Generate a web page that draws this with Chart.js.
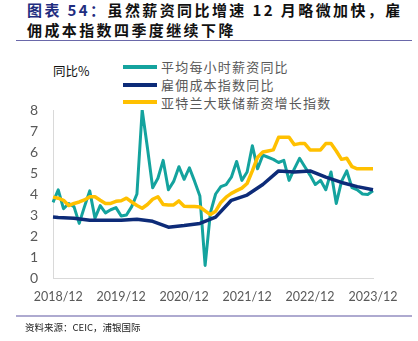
<!DOCTYPE html>
<html>
<head>
<meta charset="utf-8">
<script src="https://cdn.jsdelivr.net/npm/chart.js@4"></script>
<style>
    body { margin: 0; background: #fff; }
    #wrap { position: relative; width: 418px; height: 341px; overflow: hidden; font-family: "Noto Sans CJK SC", sans-serif; }
    #chart { position: absolute; left: 0; top: 0; }
    .title { position: absolute; left: 27px; top: 0; font-size: 15px; font-weight: bold; line-height: 20px; letter-spacing: 2.4px; color: #111; white-space: nowrap; }
    .title .tag { color: #1f2d80; }
    .rule-top { position: absolute; left: 16px; top: 40px; width: 396px; height: 1px; background: #6a68aa; }
    .rule-bottom { position: absolute; left: 16px; top: 315px; width: 396px; height: 2px; background: #aeaad0; }
    .unit { position: absolute; left: 53px; top: 61px; font-size: 12.5px; color: #111; }
    .source { position: absolute; left: 25px; top: 320px; font-size: 9.5px; color: #222; }
    #legend { position: absolute; left: 123px; top: 58px; }
    .legend-item { height: 17.7px; display: flex; align-items: center; }
    .legend-swatch { width: 34px; height: 4px; margin-right: 4px; }
    .legend-text { font-size: 13px; letter-spacing: 1.2px; color: #595959; white-space: nowrap; }
</style>
</head>
<body>
<div id="wrap">
    <div class="title"><span class="tag">图表 54：</span>虽然薪资同比增速 12 月略微加快，雇<br>佣成本指数四季度继续下降</div>
    <div class="rule-top"></div>
    <div class="unit">同比%</div>
    <div id="legend"></div>
    <canvas id="chart" width="418" height="341"></canvas>
    <div class="rule-bottom"></div>
    <div class="source">资料来源：CEIC，浦银国际</div>
</div>
<script>
// months 2018/11 .. 2023/12
const months = [];
for (let y = 2018; y <= 2023; y++) {
    for (let m = 1; m <= 12; m++) {
        if (y === 2018 && m < 11) continue;
        months.push(`${y}/${String(m).padStart(2, '0')}`.replace(/\/0?(\d+)$/, (s, d) => '/' + d));
    }
}

const seriesNames = ['平均每小时薪资同比', '雇佣成本指数同比', '亚特兰大联储薪资增长指数'];
const seriesColors = ['#14a39e', '#0d2b78', '#ffc000'];

// average hourly earnings yoy, monthly
const hourlyEarnings = [
    3.6, 4.2, 3.3, 3.55, 3.4, 2.6, 3.4, 4.15, 2.85, 3.45, 3.1, 3.25, 3.35, 2.95,
    3.0, 3.4, 4.0, 8.0, 6.2, 4.3, 4.75, 5.6, 4.2, 4.6, 5.3, 4.7, 5.25, 4.6,
    3.9, 0.6, 3.1, 4.0, 4.35, 4.45, 4.8, 5.55, 4.65, 5.05, 6.3, 5.2, 5.85, 5.75,
    5.65, 5.5, 5.6, 4.65, 5.2, 5.7, 5.3, 4.9, 4.45, 4.65, 4.2, 5.05, 3.55, 4.6,
    5.1, 4.3, 4.2, 4.0, 3.98, 4.15
];

// atlanta fed wage growth tracker, monthly
const wageTracker = [
    3.85, 3.8, 3.7, 3.45, 3.55, 3.62, 3.72, 3.87, 3.87, 3.7, 3.55, 3.55, 3.65, 3.68,
    3.8, 3.62, 3.45, 3.32, 3.5, 3.75, 3.87, 3.5, 3.48, 3.48, 3.67, 3.42, 3.4, 3.4,
    3.38, 3.2, 3.02, 3.18, 3.6, 3.85, 4.03, 4.16, 4.28, 4.5, 5.1, 5.75, 6.0, 6.05,
    6.1, 6.7, 6.7, 6.7, 6.35, 6.4, 6.4, 6.1, 6.1, 6.1, 6.4, 6.4, 6.05, 5.65,
    5.7, 5.3, 5.2, 5.2, 5.2, 5.2
];

// employment cost index yoy, quarterly
const eciDates = ['2018/11', '2018/12', '2019/3', '2019/6', '2019/9', '2019/12', '2020/3', '2020/6', '2020/9', '2020/12',
    '2021/3', '2021/6', '2021/9', '2021/12', '2022/3', '2022/6', '2022/9', '2022/12', '2023/3', '2023/6', '2023/9', '2023/12'];
const eciValues = [2.9, 2.88, 2.85, 2.75, 2.75, 2.75, 2.8, 2.7, 2.42, 2.5,
    2.6, 2.9, 3.7, 3.95, 4.45, 5.1, 5.05, 5.1, 4.8, 4.55, 4.35, 4.2];

const yTicks = [0, 1, 2, 3, 4, 5, 6, 7, 8];

const legend = document.getElementById('legend');
seriesNames.forEach((name, i) => {
    const item = document.createElement('div');
    item.className = 'legend-item';
    item.innerHTML = `<div class="legend-swatch" style="background:${seriesColors[i]}"></div><span class="legend-text">${name}</span>`;
    legend.appendChild(item);
});

const tickFont = { family: 'Lato', size: 12.5 };

new Chart(document.getElementById('chart').getContext('2d'), {
    type: 'line',
    data: {
        labels: months,
        datasets: [{
            label: seriesNames[0],
            data: hourlyEarnings,
            borderColor: seriesColors[0],
            borderWidth: 3,
            order: 2
        }, {
            label: seriesNames[1],
            data: eciDates.map((d, i) => ({ x: d, y: eciValues[i] })),
            borderColor: seriesColors[1],
            borderWidth: 3.5,
            order: 1
        }, {
            label: seriesNames[2],
            data: wageTracker,
            borderColor: seriesColors[2],
            borderWidth: 3.5,
            order: 0
        }]
    },
    options: {
        responsive: false,
        animation: false,
        devicePixelRatio: 1,
        layout: { padding: { left: 0, top: 110, right: 45, bottom: 0 } },
        elements: {
            point: { radius: 0 },
            line: { tension: 0, borderJoinStyle: 'round', fill: false }
        },
        plugins: { legend: { display: false }, tooltip: { enabled: false } },
        scales: {
            x: {
                type: 'category',
                grid: { display: false, drawTicks: false },
                border: { display: true, color: '#d9d9d9', width: 1 },
                ticks: {
                    autoSkip: false,
                    maxRotation: 0,
                    padding: 11,
                    color: '#595959',
                    font: tickFont,
                    callback: function (value) {
                        const label = this.getLabelForValue(value);
                        return label.endsWith('/12') ? label : '';
                    }
                },
                afterFit: scale => { scale.height = 63; }
            },
            y: {
                min: yTicks[0],
                max: yTicks[yTicks.length - 1],
                grid: { display: false, drawTicks: false },
                border: { display: true, color: '#d9d9d9', width: 1 },
                ticks: { stepSize: 1, padding: 15, color: '#595959', font: { family: 'Lato', size: 14 } },
                afterFit: scale => { scale.width = 53; }
            }
        }
    }
});
</script>
</body>
</html>
